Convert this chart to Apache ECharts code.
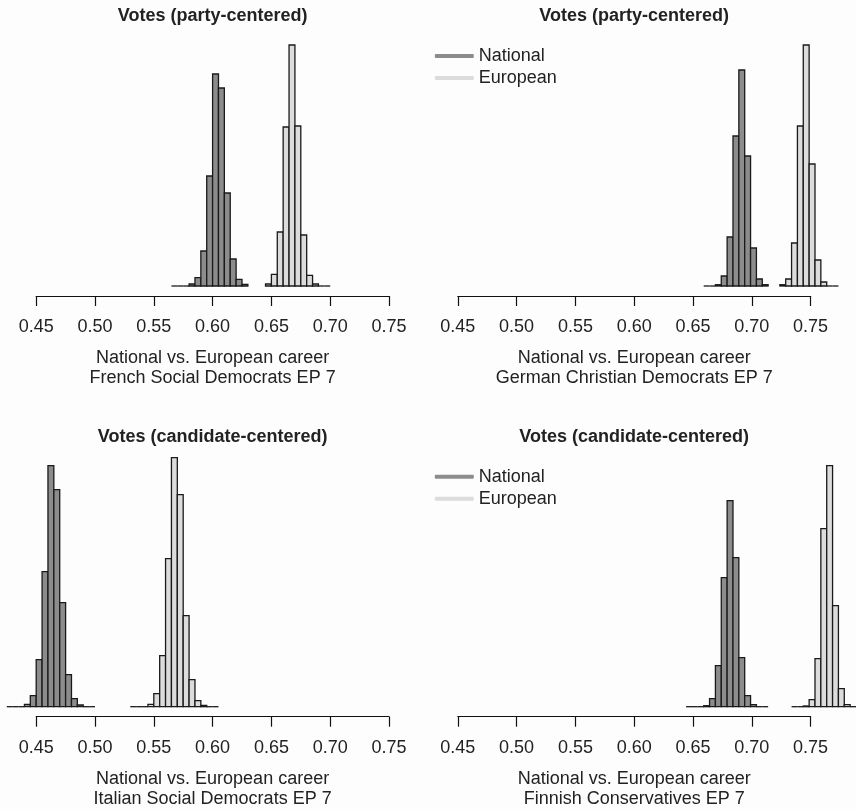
<!DOCTYPE html>
<html>
<head>
<meta charset="utf-8">
<script src="https://cdn.jsdelivr.net/npm/echarts@6/dist/echarts.min.js"></script>
<style>
  html, body { margin: 0; padding: 0; background: #fdfdfd; }
  #chart { width: 856px; height: 809px; }
</style>
</head>
<body>
<div id="chart"></div>
<script>
// ---------------- DATA ----------------
const BIN = 0.005;                       // histogram bin width
const tickValues = [0.45, 0.50, 0.55, 0.60, 0.65, 0.70, 0.75];
const seriesNames = ['National', 'European'];

const panelTitles = [
  'Votes (party-centered)', 'Votes (party-centered)',
  'Votes (candidate-centered)', 'Votes (candidate-centered)'
];
const axisCaption = 'National vs. European career';
const partyNames = [
  'French Social Democrats EP 7', 'German Christian Democrats EP 7',
  'Italian Social Democrats EP 7', 'Finnish Conservatives EP 7'
];

// relative density per bin (bins start at *Start, step BIN)
const frNatStart = 0.565;
const frNat = [0, 0, 0, 2, 8.3, 35, 110, 212, 198, 93, 27, 6.7, 1.7];
const frEurStart = 0.645;
const frEur = [2, 11.7, 54, 159, 241, 160, 51, 10.7, 2, 0, 0];

const deNatStart = 0.660;
const deNat = [0, 0, 1.3, 10, 49, 150, 216, 130, 38, 7, 1.3];
const deEurStart = 0.725;
const deEur = [1.3, 7, 43, 160, 241, 122, 26, 4, 0, 0];

const itNatStart = 0.425;
const itNat = [0, 0, 0, 2.3, 11, 47, 135, 241, 217, 104, 32, 8, 1.7, 0, 0];
const itEurStart = 0.530;
const itEur = [0, 0, 0, 2.3, 13, 51, 148, 249, 212, 91, 27, 6, 1.3, 0, 0];

const fiNatStart = 0.645;
const fiNat = [0, 0, 0, 1, 8, 41, 129, 206, 149, 49, 11, 2, 0, 0];
const fiEurStart = 0.735;
const fiEur = [0, 0, 0.7, 7, 48, 178, 241, 101, 18, 2, 0, 0];

// ---------------- LAYOUT / STYLE ----------------
const FONT = "'Liberation Sans', Arial, Helvetica, sans-serif";
const TXT = '#222222';
const NAT_COLOR = '#8c8c8c';
const EUR_COLOR = '#dcdcdc';
const EDGE = '#1a1a1a';
const PPU = 1176;            // pixels per unit on x
const YMAX = 260;
const ROW_DY = 420.7;

const panels = [
  { p45: 36.2,  base: 286, nat: [frNatStart, frNat], eur: [frEurStart, frEur], legend: false, xmin: 0.42, xmax: 0.78 },
  { p45: 457.8, base: 286, nat: [deNatStart, deNat], eur: [deEurStart, deEur], legend: true,  xmin: 0.42, xmax: 0.79 },
  { p45: 36.2,  base: 286 + ROW_DY, nat: [itNatStart, itNat], eur: [itEurStart, itEur], legend: false, xmin: 0.42, xmax: 0.78 },
  { p45: 457.8, base: 286 + ROW_DY, nat: [fiNatStart, fiNat], eur: [fiEurStart, fiEur], legend: true,  xmin: 0.42, xmax: 0.79 }
];

const grid = [], xAxis = [], yAxis = [], series = [], legend = [], graphic = [];

function histSeries(name, start, vals, color, axisIdx) {
  const data = vals.map((v, i) => [start + i * BIN, start + (i + 1) * BIN, v]);
  return {
    type: 'custom',
    name: name,
    xAxisIndex: axisIdx,
    yAxisIndex: axisIdx,
    data: data,
    itemStyle: { color: color },
    encode: { x: [0, 1], y: 2 },
    silent: true,
    renderItem: function (params, api) {
      const x0 = api.value(0), x1 = api.value(1), v = api.value(2);
      const a = api.coord([x0, 0]);
      const b = api.coord([x1, v]);
      if (v === 0) {
        return {
          type: 'line',
          shape: { x1: a[0], y1: a[1], x2: b[0], y2: a[1] },
          style: { stroke: EDGE, lineWidth: 1.3 }
        };
      }
      return {
        type: 'rect',
        shape: { x: a[0], y: b[1], width: b[0] - a[0], height: a[1] - b[1] },
        style: { fill: color, stroke: EDGE, lineWidth: 1.3 }
      };
    }
  };
}

panels.forEach((p, k) => {
  const dataIdx = grid.length;
  // data grid (wide, hidden axes)
  grid.push({
    left: p.p45 - (0.45 - p.xmin) * PPU,
    top: p.base - YMAX,
    width: (p.xmax - p.xmin) * PPU,
    height: YMAX,
    containLabel: false
  });
  xAxis.push({ type: 'value', gridIndex: dataIdx, min: p.xmin, max: p.xmax, show: false });
  yAxis.push({ type: 'value', gridIndex: dataIdx, min: 0, max: YMAX, show: false });

  // axis grid (visible x axis from 0.45 to 0.75)
  const axIdx = grid.length;
  const axisY = p.base + 10;
  grid.push({
    left: p.p45,
    top: axisY - 6,
    width: (tickValues[tickValues.length - 1] - tickValues[0]) * PPU,
    height: 6
  });
  xAxis.push({
    type: 'value',
    gridIndex: axIdx,
    min: tickValues[0],
    max: tickValues[tickValues.length - 1],
    interval: 0.05,
    axisLine: { show: true, lineStyle: { color: '#111', width: 1.2 } },
    axisTick: { show: true, inside: false, length: 10, lineStyle: { color: '#111', width: 1.2 } },
    splitLine: { show: false },
    axisLabel: {
      show: true,
      margin: 22,
      fontSize: 18,
      fontFamily: FONT,
      color: TXT,
      formatter: v => v.toFixed(2)
    }
  });
  yAxis.push({ type: 'value', gridIndex: axIdx, show: false });

  series.push(histSeries(seriesNames[0], p.nat[0], p.nat[1], NAT_COLOR, dataIdx));
  series.push(histSeries(seriesNames[1], p.eur[0], p.eur[1], EUR_COLOR, dataIdx));

  const cx = p.p45 + 0.15 * PPU;
  const dy = p.base - 286;
  graphic.push({
    type: 'text', x: cx, y: 16 + dy,
    style: { text: panelTitles[k], font: 'bold 18px ' + FONT, fill: TXT, align: 'center', verticalAlign: 'middle' }
  });
  graphic.push({
    type: 'text', x: cx, y: 358.5 + dy,
    style: { text: axisCaption, font: '18px ' + FONT, fill: TXT, align: 'center', verticalAlign: 'middle' }
  });
  graphic.push({
    type: 'text', x: cx, y: 378.5 + dy,
    style: { text: partyNames[k], font: '18px ' + FONT, fill: TXT, align: 'center', verticalAlign: 'middle' }
  });

  if (p.legend) {
    legend.push({
      data: seriesNames,
      orient: 'vertical',
      left: p.p45 - 23,
      top: 45 + dy,
      padding: 0,
      itemGap: 0,
      itemWidth: 39,
      itemHeight: 4,
      icon: 'roundRect',
      selectedMode: false,
      itemStyle: { borderWidth: 0 },
      textStyle: { fontSize: 18, fontFamily: FONT, color: TXT, lineHeight: 22 }
    });
  }
});

const chart = echarts.init(document.getElementById('chart'), null, { renderer: 'canvas' });
chart.setOption({
  backgroundColor: '#fdfdfd',
  animation: false,
  grid: grid,
  xAxis: xAxis,
  yAxis: yAxis,
  legend: legend,
  series: series,
  graphic: graphic
});
</script>
</body>
</html>
